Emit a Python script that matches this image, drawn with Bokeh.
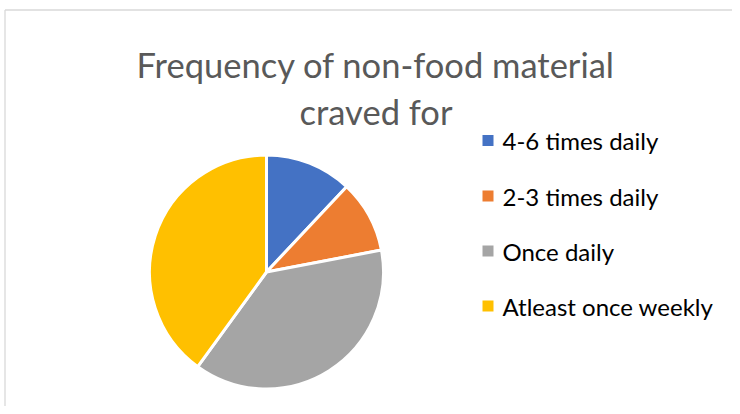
import math
from bokeh.plotting import figure
from bokeh.models import Range1d, ColumnDataSource
from bokeh.core.properties import value
from bokeh.embed import file_html
from bokeh.resources import INLINE

# ---- data ----
categories = ["4-6 times daily", "2-3 times daily", "Once daily", "Atleast once weekly"]
shares = [12, 10, 38, 40]
colors = ["#4472C4", "#ED7D31", "#A5A5A5", "#FFC000"]
title_lines = ["Frequency of non-food material", "craved for"]

# ---- layout (picture pixel coordinates; y measured from top) ----
H = 414
def Y(y):
    return H - y

X0, Y0 = 0, 0
W_FIG, H_FIG = 732, 406
p = figure(width=W_FIG, height=H_FIG, output_backend="svg", toolbar_location=None,
           x_range=Range1d(X0, X0 + W_FIG), y_range=Range1d(Y(Y0 + H_FIG), Y(Y0)),
           min_border=0, outline_line_color=None, background_fill_color="white",
           border_fill_color="white")
p.axis.visible = False
p.grid.visible = False

# chart-area border
p.segment(x0=[4.5, 4.5], y0=[Y(9.5), Y(9.5)], x1=[X0 + W_FIG, 4.5],
          y1=[Y(9.5), Y(Y0 + H_FIG)], line_color="#D9D9D9", line_width=1.3)

# pie
total = float(sum(shares))
starts, ends = [], []
acc = 0.0
for s in shares:
    a0 = math.pi / 2 - 2 * math.pi * acc / total
    acc += s
    a1 = math.pi / 2 - 2 * math.pi * acc / total
    starts.append(a0)
    ends.append(a1)
src = ColumnDataSource(dict(start=starts, end=ends, color=colors, cat=categories))
p.wedge(x=266, y=Y(271.5), radius=117, start_angle="start", end_angle="end",
        direction="clock", fill_color="color", line_color="white", line_width=3, source=src)

# title
p.text(x=[375.5, 375.5], y=[Y(64), Y(111)], text=title_lines, text_align="center",
       text_baseline="alphabetic", text_font=value("Lato"), text_font_size="34.5px",
       text_color="#595959")

# legend
rows = [140, 195.5, 250.5, 305.5]
p.scatter(x=[487.5] * 4, y=[Y(r) for r in rows], marker="square", size=11,
          fill_color=colors, line_color=None)
p.text(x=[502] * 4, y=[Y(r) for r in rows], text=categories, text_align="left",
       text_baseline="middle", text_font=value("Lato"), text_font_size="24px",
       text_color="#000000")

open("out.html", "w").write(file_html(p, INLINE))
